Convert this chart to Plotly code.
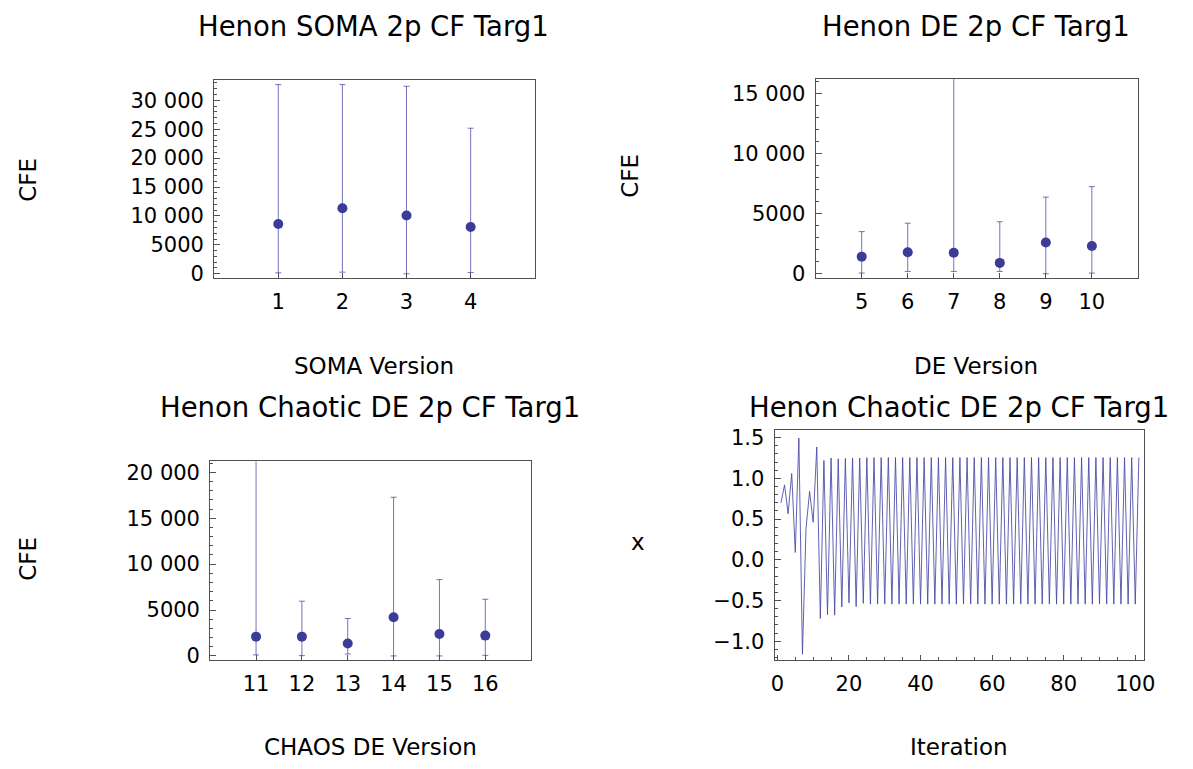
import plotly.graph_objects as go

# ---------------- data ----------------
soma_versions = [1, 2, 3, 4]
soma_mean = [8600, 11330, 10070, 8100]
soma_max = [32720, 32720, 32430, 25180]
soma_min = [170, 280, 0, 220]

de_versions = [5, 6, 7, 8, 9, 10]
de_mean = [1420, 1780, 1750, 900, 2600, 2300]
de_max = [3500, 4200, 18000, 4320, 6370, 7240]
de_min = [55, 190, 190, 190, 0, 55]

chaos_versions = [11, 12, 13, 14, 15, 16]
chaos_mean = [2100, 2100, 1350, 4210, 2390, 2210]
chaos_max = [23000, 5960, 4070, 17280, 8310, 6170]
chaos_min = [110, 30, 210, 0, 0, 60]

iteration = list(range(1, 102))
henon_x = [
    0.70, 0.92, 0.565, 1.06, 0.09, 1.495, -1.16, 0.38, 0.84, 0.46,
    1.385, -0.72, 1.22, -0.675, 1.25, -0.68, 1.24, -0.58, 1.245, -0.53,
    1.25, -0.575, 1.25, -0.535, 1.255, -0.545, 1.256, -0.545, 1.256, -0.545,
    1.256, -0.545, 1.256, -0.545, 1.256, -0.545, 1.256, -0.545, 1.256, -0.545,
    1.256, -0.545, 1.256, -0.545, 1.256, -0.545, 1.256, -0.545, 1.256, -0.545,
    1.256, -0.545, 1.256, -0.545, 1.256, -0.545, 1.256, -0.545, 1.256, -0.545,
    1.256, -0.545, 1.256, -0.545, 1.256, -0.545, 1.256, -0.545, 1.256, -0.545,
    1.256, -0.545, 1.256, -0.545, 1.256, -0.545, 1.256, -0.545, 1.256, -0.545,
    1.256, -0.545, 1.256, -0.545, 1.256, -0.545, 1.256, -0.545, 1.256, -0.545,
    1.256, -0.545, 1.256, -0.545, 1.256, -0.545, 1.256, -0.545, 1.256, -0.545,
    1.256,
]

soma_yticks = [0, 5000, 10000, 15000, 20000, 25000, 30000]
de_yticks = [0, 5000, 10000, 15000]
chaos_yticks = [0, 5000, 10000, 15000, 20000]
xs_yticks = [-1.0, -0.5, 0.0, 0.5, 1.0, 1.5]
xs_xticks = [0, 20, 40, 60, 80, 100]


def fmt(v):
    s = str(int(v))
    if len(s) >= 5:
        s = s[:-3] + " " + s[-3:]
    return s


# ---------------- style ----------------
FONT = "DejaVu Sans"
PT = "#3b3b98"
BAR = "rgba(70,70,165,0.75)"
FRAME = "#505050"

W, H = 1193, 769


def px_x(v):
    return v / W


def px_y(v):
    return 1 - v / H


fig = go.Figure()


def err_trace(x, mean, mx, mn, xa, ya):
    plus = [a - m for a, m in zip(mx, mean)]
    minus = [m - b for m, b in zip(mean, mn)]
    return go.Scatter(
        x=x, y=mean, mode="markers", xaxis=xa, yaxis=ya,
        marker=dict(color=PT, size=10),
        error_y=dict(type="data", symmetric=False, array=plus, arrayminus=minus,
                     color=BAR, thickness=1, width=3),
        showlegend=False, hoverinfo="x+y",
    )


fig.add_trace(err_trace(soma_versions, soma_mean, soma_max, soma_min, "x", "y"))
fig.add_trace(err_trace(de_versions, de_mean, de_max, de_min, "x2", "y2"))
fig.add_trace(err_trace(chaos_versions, chaos_mean, chaos_max, chaos_min, "x3", "y3"))
fig.add_trace(go.Scatter(x=iteration, y=henon_x, mode="lines", xaxis="x4", yaxis="y4",
                         line=dict(color="rgba(70,70,165,0.85)", width=1),
                         showlegend=False))

tickfont = dict(family=FONT, size=21, color="black")


def xaxis(domain, rng, tickvals, anchor, minor=None):
    d = dict(domain=domain, range=rng, anchor=anchor, showgrid=False, zeroline=False,
             showline=True, linecolor=FRAME, linewidth=1, mirror=True,
             ticks="inside", ticklen=5, tickcolor=FRAME, tickwidth=1,
             tickvals=tickvals, ticktext=[fmt(v) for v in tickvals],
             tickfont=tickfont, ticklabelstandoff=5)
    if minor:
        d["minor"] = minor
    return d


def yaxis(domain, rng, tickvals, anchor, labels, minor):
    return dict(domain=domain, range=rng, anchor=anchor, showgrid=False, zeroline=False,
                showline=True, linecolor=FRAME, linewidth=1, mirror=True,
                ticks="inside", ticklen=6, tickcolor=FRAME, tickwidth=1,
                tickvals=tickvals, ticktext=labels,
                tickfont=tickfont, ticklabelstandoff=5, minor=minor)


fig.update_layout(
    width=W, height=H, margin=dict(l=0, r=0, t=0, b=0),
    paper_bgcolor="white", plot_bgcolor="white",
    font=dict(family=FONT, color="black"),
    xaxis=xaxis([px_x(213), px_x(538)], [0, 5], soma_versions, "y"),
    yaxis=yaxis([px_y(279.3), px_y(78.3)], [-720, 33500], soma_yticks, "x",
                [fmt(v) for v in soma_yticks],
                dict(dtick=1000, ticklen=3, ticks="inside", tickcolor=FRAME)),
    xaxis2=xaxis([px_x(822.7), px_x(1149.3)], [4, 11], de_versions, "y2"),
    yaxis2=yaxis([px_y(279.3), px_y(77.3)], [-350, 16180], de_yticks, "x2",
                 [fmt(v) for v in de_yticks],
                 dict(dtick=1000, ticklen=3, ticks="inside", tickcolor=FRAME)),
    xaxis3=xaxis([px_x(209), px_x(534.3)], [10, 17], chaos_versions, "y3"),
    yaxis3=yaxis([px_y(667), px_y(465.7)], [-400, 21180], chaos_yticks, "x3",
                 [fmt(v) for v in chaos_yticks],
                 dict(dtick=1000, ticklen=3, ticks="inside", tickcolor=FRAME)),
    xaxis4=xaxis([px_x(781), px_x(1155)], [-0.8, 102.3], xs_xticks, "y4",
                 minor=dict(dtick=5, ticklen=3, ticks="inside", tickcolor=FRAME)),
    yaxis4=yaxis([px_y(667.3), px_y(433.3)], [-1.23, 1.60], xs_yticks, "x4",
                 [("\u2212" if v < 0 else "") + f"{abs(v):.1f}" for v in xs_yticks],
                 dict(dtick=0.1, ticklen=3, ticks="inside", tickcolor=FRAME)),
)


def ann(text, x, y, size, angle=0):
    fig.add_annotation(text=text, x=px_x(x), y=px_y(y), xref="paper", yref="paper",
                       showarrow=False, textangle=angle, xanchor="center", yanchor="middle",
                       font=dict(family=FONT, size=size, color="black"))


# titles
ann("Henon SOMA 2p CF Targ1", 375, 23, 27.5)
ann("Henon DE 2p CF Targ1", 985, 23, 27.5)
ann("Henon Chaotic DE 2p CF Targ1", 371, 410, 27.5)
ann("Henon Chaotic DE 2p CF Targ1", 968, 410, 27.5)

# axis labels
ann("SOMA Version", 375, 369, 23)
ann("DE Version", 985, 369, 23)
ann("CHAOS DE Version", 371, 756, 23)
ann("Iteration", 968, 756, 23)
ann("CFE", 25, 180, 23, -90)
ann("CFE", 635, 175, 23, -90)
ann("CFE", 25, 565, 23, -90)
ann("x", 643, 548, 23)

fig.write_html("out.html")
